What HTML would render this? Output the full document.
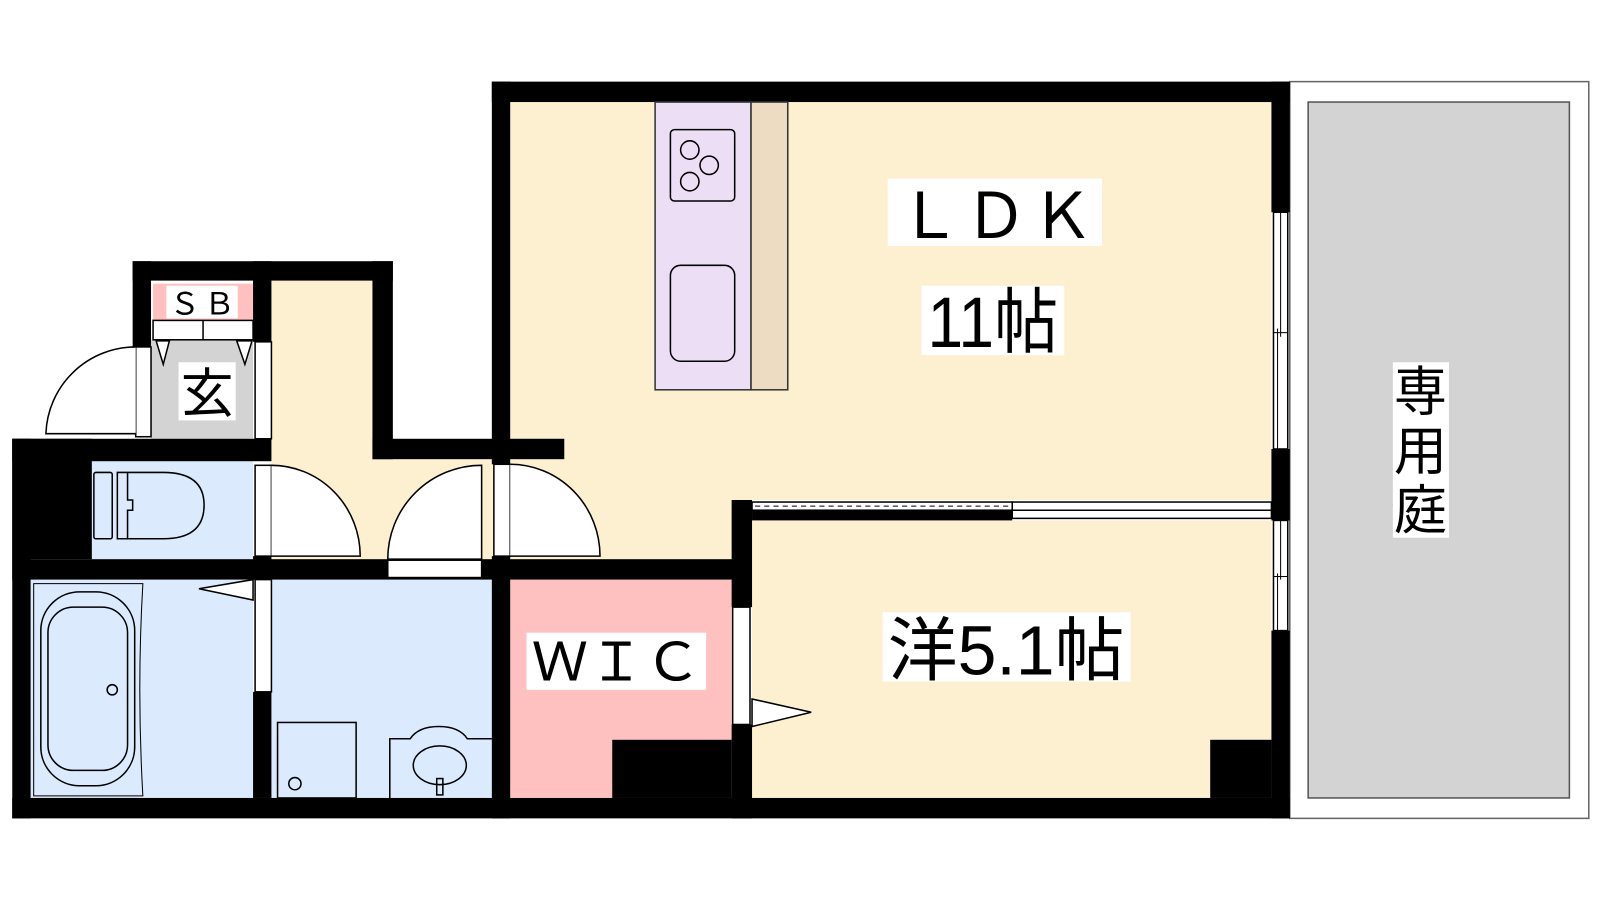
<!DOCTYPE html>
<html><head><meta charset="utf-8"><style>html,body{margin:0;padding:0;background:#fff}svg{display:block}</style></head>
<body>
<svg width="1600" height="900" viewBox="0 0 1568 882" xmlns="http://www.w3.org/2000/svg" font-family="'Liberation Sans','Noto Sans CJK JP',sans-serif">
<rect x="1264" y="80" width="293" height="722" fill="#fff" stroke="#666" stroke-width="1.5"/>
<rect x="1282" y="100" width="256" height="682" fill="#d3d3d3" stroke="#555" stroke-width="1.5"/>
<rect x="500" y="100" width="746" height="390" fill="#fdf0d0"/>
<rect x="266" y="275" width="99" height="273" fill="#fdf0d0"/>
<rect x="365" y="450" width="135" height="98" fill="#fdf0d0"/>
<rect x="500" y="450" width="217" height="98" fill="#fdf0d0"/>
<rect x="737" y="510" width="509" height="272" fill="#fdf0d0"/>
<rect x="150" y="278" width="98" height="36" fill="#ffc0c0"/>
<rect x="148" y="333" width="100" height="97" fill="#d3d3d3"/>
<rect x="90" y="452" width="158" height="96" fill="#dbeafd"/>
<rect x="30" y="568" width="218" height="214" fill="#dbeafd"/>
<rect x="266" y="568" width="216" height="214" fill="#dbeafd"/>
<rect x="500" y="568" width="217" height="214" fill="#ffc0c0"/>
<g fill="#000">
<rect x="482" y="80" width="782" height="20"/>
<rect x="482" y="80" width="18" height="375"/>
<rect x="482" y="545" width="18" height="257"/>
<rect x="1246" y="80" width="18" height="128"/>
<rect x="1246" y="440" width="18" height="70"/>
<rect x="1246" y="618" width="18" height="184"/>
<rect x="12" y="782" width="1252" height="20"/>
<rect x="365" y="256" width="20" height="194"/>
<rect x="365" y="430" width="188" height="20"/>
<rect x="130" y="256" width="255" height="19"/>
<rect x="130" y="256" width="18" height="84"/>
<rect x="248" y="256" width="18" height="79"/>
<rect x="12" y="430" width="254" height="22"/>
<rect x="12" y="430" width="78" height="118"/>
<rect x="12" y="430" width="18" height="372"/>
<rect x="12" y="548" width="723" height="20"/>
<rect x="248" y="678" width="18" height="104"/>
<rect x="248" y="545" width="18" height="23"/>
<rect x="717" y="490" width="20" height="105"/>
<rect x="717" y="710" width="20" height="92"/>
<rect x="600" y="725" width="117" height="57"/>
<rect x="1186" y="725" width="60" height="57"/>
<rect x="737" y="500" width="255" height="10"/>
</g>
<g fill="#fff" stroke="#000" stroke-width="1.5">
<rect x="150" y="314" width="98" height="19"/>
<line x1="199" y1="314" x2="199" y2="333"/>
<polygon points="153,334 160,357 166,334"/><polygon points="232,334 240,357 247,334"/>
<rect x="133" y="340" width="15" height="88"/>
<path d="M133,340 A88,88 0 0 0 45,425 L133,425" />
<rect x="250" y="335" width="16" height="95"/>
<rect x="250" y="456" width="16" height="89"/>
<path d="M266,456 A87,89 0 0 1 353,545 L266,545"/>
<rect x="380" y="549" width="92" height="17"/>
<path d="M472,456 L472,548 L380,548 A92,92 0 0 1 472,456Z"/>
<rect x="484" y="455" width="16" height="90"/>
<path d="M500,455 A88,90 0 0 1 588,545 L500,545"/>
<rect x="250" y="568" width="16" height="110"/>
<polygon points="195,577 248,568 248,588"/>
<rect x="718" y="595" width="17" height="115"/>
<polygon points="737,685 795,698 737,712"/>
<rect x="737" y="492" width="255" height="8"/>
<rect x="992" y="492" width="254" height="16"/>
<line x1="992" y1="500" x2="1246" y2="500"/>
<rect x="1248" y="208" width="14" height="232"/>
<rect x="1248" y="510" width="14" height="108"/>
</g>
<line x1="740" y1="496" x2="990" y2="496" stroke="#000" stroke-width="1" stroke-dasharray="5,4"/>
<g stroke="#000" stroke-width="1" fill="none">
<line x1="1255" y1="208" x2="1255" y2="330"/><line x1="1252" y1="322" x2="1252" y2="440"/><line x1="1248" y1="326" x2="1262" y2="326"/>
<line x1="1255" y1="510" x2="1255" y2="568"/><line x1="1252" y1="562" x2="1252" y2="618"/><line x1="1248" y1="565" x2="1262" y2="565"/>
</g>
<rect x="642" y="100" width="94" height="282" fill="#ecdff5" stroke="#333" stroke-width="1.5"/>
<rect x="736" y="100" width="36" height="282" fill="#eddcc2" stroke="#333" stroke-width="1.5"/>
<g fill="none" stroke="#000" stroke-width="1.5">
<rect x="657" y="127" width="63" height="70" rx="4"/>
<circle cx="676" cy="147" r="9"/><circle cx="695" cy="162" r="9"/><circle cx="676" cy="178" r="9"/>
<rect x="657" y="260" width="63" height="94" rx="10"/>
<rect x="92" y="463" width="18" height="65" rx="2"/>
<path d="M115,463 L115,528 L160,528 Q200,528 200,495 Q200,463 160,463 Z"/>
<path d="M125,463 L125,490 L130,490 L130,500 L125,500 L125,528"/>
<path d="M33,572 L140,572 Q134,675 140,780 L33,780 Z" stroke-width="1"/>
<rect x="40" y="580" width="92" height="190" rx="38"/>
<rect x="47" y="595" width="78" height="160" rx="25"/>
<circle cx="110" cy="676" r="5"/>
<rect x="272" y="708" width="77" height="74" stroke-width="1.5"/>
<circle cx="289" cy="768" r="6"/>
<path d="M382,782 L382,724 L402,724 Q410,712 430,712 Q450,712 458,724 L482,724"/>
<ellipse cx="431" cy="750" rx="26" ry="19"/>
<rect x="428" y="763" width="6" height="16"/>
</g>
<rect x="870" y="175" width="210" height="66" fill="#fff"/>
<text x="880" y="233" font-size="62" textLength="192" lengthAdjust="spacing">ＬＤＫ</text>
<rect x="903" y="280" width="140" height="68" fill="#fff"/>
<text x="973" y="340" font-size="70" text-anchor="middle" textLength="128" lengthAdjust="spacingAndGlyphs">11帖</text>
<rect x="865" y="600" width="243" height="68" fill="#fff"/>
<text x="986" y="661" font-size="68" text-anchor="middle" textLength="232" lengthAdjust="spacingAndGlyphs">洋5.1帖</text>
<rect x="516" y="620" width="176" height="56" fill="#fff"/>
<text x="604" y="667" font-size="52" text-anchor="middle" textLength="166" lengthAdjust="spacingAndGlyphs">ＷＩＣ</text>
<rect x="1365" y="355" width="55" height="172" fill="#fff"/>
<text x="1392" y="402" font-size="52" text-anchor="middle">専</text>
<text x="1392" y="460" font-size="52" text-anchor="middle">用</text>
<text x="1392" y="518" font-size="52" text-anchor="middle">庭</text>
<rect x="175" y="355" width="56" height="57" fill="#fff"/>
<text x="203" y="404" font-size="52" text-anchor="middle">玄</text>
<rect x="163" y="280" width="70" height="32" fill="#fff"/>
<text x="166" y="308" font-size="30" textLength="64" lengthAdjust="spacing">ＳＢ</text>
</svg>
</body></html>
